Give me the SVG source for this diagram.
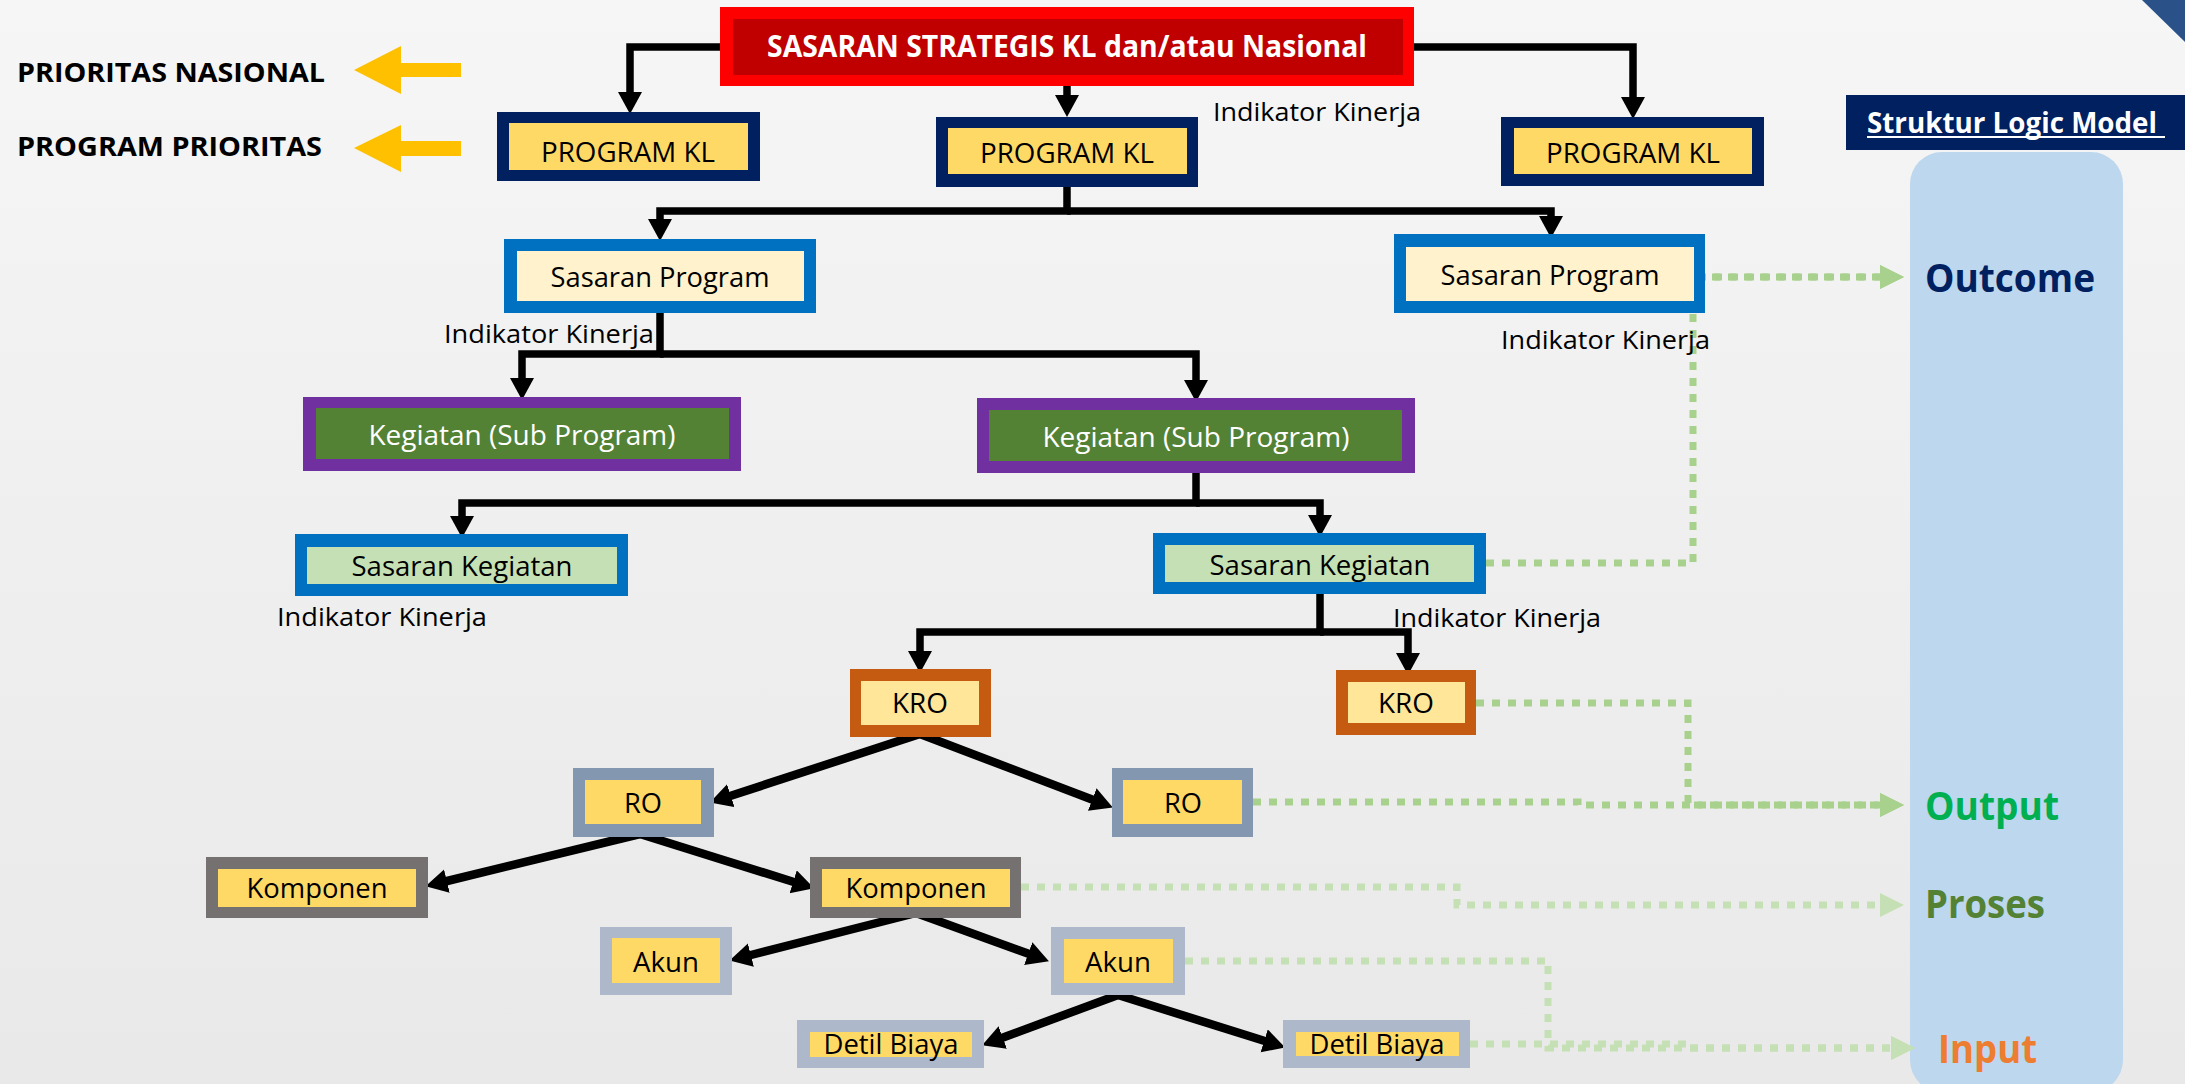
<svg xmlns="http://www.w3.org/2000/svg" width="2185" height="1084" viewBox="0 0 2185 1084">
<defs>
<linearGradient id="bg" x1="0" y1="0" x2="0" y2="1">
<stop offset="0" stop-color="#F6F6F6"/>
<stop offset="0.5" stop-color="#EFEFEF"/>
<stop offset="1" stop-color="#E9E9E9"/>
</linearGradient>
<marker id="ab" markerUnits="userSpaceOnUse" markerWidth="26" markerHeight="26" viewBox="0 0 26 26" refX="4" refY="12" orient="auto">
<path d="M0,0 L22,12 L0,24 z" fill="#000"/>
</marker>
<marker id="ag" markerUnits="userSpaceOnUse" markerWidth="26" markerHeight="26" viewBox="0 0 26 26" refX="0" refY="12" orient="auto">
<path d="M0,0 L24,12 L0,24 z" fill="#A9D18E"/>
</marker>
<marker id="agl" markerUnits="userSpaceOnUse" markerWidth="26" markerHeight="26" viewBox="0 0 26 26" refX="0" refY="12" orient="auto">
<path d="M0,0 L24,12 L0,24 z" fill="#C5E0B4"/>
</marker>
</defs>
<style>
text{font-family:"Open Sans","Noto Sans","DejaVu Sans",sans-serif;}
.lbl{font-size:28px;fill:#000;text-anchor:middle;}
.wl{font-size:28px;fill:#fff;text-anchor:middle;}
.ik{font-size:26px;fill:#000;}
.hd{font-size:27px;font-weight:bold;fill:#000;}
.lm{font-size:39px;font-weight:bold;}
.blk{fill:none;stroke:#000;stroke-width:7.5;marker-end:url(#ab);}
.dg{fill:none;stroke:#000;stroke-width:8.5;marker-end:url(#ab);}
.gd{fill:none;stroke:#A9D18E;stroke-width:7;stroke-dasharray:8 8;marker-end:url(#ag);}
.gl{fill:none;stroke:#C5E0B4;stroke-width:7;stroke-dasharray:8 8;marker-end:url(#agl);}
</style>
<rect x="0" y="0" width="2185" height="1084" fill="url(#bg)"/>
<polygon points="2142,0 2185,0 2185,42" fill="#2A5288"/>

<g id="legend-left">
<text class="hd" x="17" y="82" textLength="308" lengthAdjust="spacingAndGlyphs">PRIORITAS NASIONAL</text>
<text class="hd" x="17" y="156" textLength="305" lengthAdjust="spacingAndGlyphs">PROGRAM PRIORITAS</text>
<polygon points="354,70 401,46 401,63 461,63 461,77 401,77 401,94" fill="#FFC000"/>
<polygon points="354,148 401,125 401,141 461,141 461,156 401,156 401,172" fill="#FFC000"/>
</g>

<g id="logic-model">
<rect x="1846" y="95" width="339" height="55" fill="#002060"/>
<text x="1867" y="133" font-size="29" font-weight="bold" fill="#fff" textLength="290" lengthAdjust="spacingAndGlyphs">Struktur Logic Model</text>
<line x1="1867" y1="137" x2="2165" y2="137" stroke="#fff" stroke-width="2"/>
<rect x="1910" y="152" width="213" height="940" rx="32" ry="32" fill="#BDD7EE"/>
<text class="lm" x="1925" y="292" fill="#002060" textLength="170" lengthAdjust="spacingAndGlyphs">Outcome</text>
<text class="lm" x="1925" y="820" fill="#00B050" textLength="134" lengthAdjust="spacingAndGlyphs">Output</text>
<text class="lm" x="1925" y="918" fill="#548235" textLength="120" lengthAdjust="spacingAndGlyphs">Proses</text>
<text class="lm" x="1938" y="1063" fill="#ED7D31" textLength="99" lengthAdjust="spacingAndGlyphs">Input</text>
</g>

<g id="connectors">
<path class="blk" d="M720,47 H630 V96"/>
<path class="blk" d="M1067,86 V99"/>
<path class="blk" d="M1414,47 H1633 V101"/>
<path class="blk" d="M1067,187 V211 H660 V223"/>
<path class="blk" d="M1067,211 H1551 V220"/>
<path class="blk" d="M660,313 V354 H522 V382"/>
<path class="blk" d="M660,354 H1196 V384"/>
<path class="blk" d="M1196,473 V503 H462 V520"/>
<path class="blk" d="M1196,503 H1320 V519"/>
<path class="blk" d="M1320,594 V632 H920 V655"/>
<path class="blk" d="M1320,632 H1408 V657"/>
<path class="dg" d="M920,734 L727,797"/>
<path class="dg" d="M920,734 L1096,801"/>
<path class="dg" d="M640,834 L443,882"/>
<path class="dg" d="M640,834 L797,883"/>
<path class="dg" d="M916,913 L747,956"/>
<path class="dg" d="M916,913 L1032,955"/>
<path class="dg" d="M1118,995 L999,1039"/>
<path class="dg" d="M1118,995 L1268,1042"/>
<path class="gd" d="M1486,563 H1693 V277 H1880"/>
<path class="gd" d="M1698,277 H1880"/>
<path class="gd" d="M1476,703 H1688 V805 H1880"/>
<path class="gd" d="M1253,802 H1578 V805 H1880"/>
<path class="gl" d="M1021,887 H1457 V905 H1880"/>
<path class="gl" d="M1185,961 H1548 V1048 H1891"/>
<path class="gl" d="M1470,1044 H1690 V1048 H1891"/>
</g>

<g id="sasaran-strategis">
<rect x="720" y="7" width="694" height="79" fill="#FF0000"/>
<rect x="733" y="19" width="670" height="56" fill="#C00000"/>
<text x="1067" y="57" font-size="31" font-weight="bold" fill="#fff" text-anchor="middle" textLength="600" lengthAdjust="spacingAndGlyphs">SASARAN STRATEGIS KL dan/atau Nasional</text>
</g>
<g id="ik-1"><text class="ik" x="1213" y="121" textLength="208" lengthAdjust="spacingAndGlyphs">Indikator Kinerja</text></g>

<g id="program-kl-1">
<rect x="497" y="112" width="263" height="69" fill="#002060"/>
<rect x="509" y="123" width="239" height="47" fill="#FFD966"/>
<text class="lbl" x="628" y="162" textLength="174" lengthAdjust="spacingAndGlyphs">PROGRAM KL</text>
</g>
<g id="program-kl-2">
<rect x="936" y="117" width="262" height="70" fill="#002060"/>
<rect x="948" y="128" width="239" height="46" fill="#FFD966"/>
<text class="lbl" x="1067" y="163" textLength="174" lengthAdjust="spacingAndGlyphs">PROGRAM KL</text>
</g>
<g id="program-kl-3">
<rect x="1501" y="117" width="263" height="69" fill="#002060"/>
<rect x="1514" y="128" width="238" height="46" fill="#FFD966"/>
<text class="lbl" x="1633" y="163" textLength="174" lengthAdjust="spacingAndGlyphs">PROGRAM KL</text>
</g>

<g id="sasaran-program-1">
<rect x="504" y="239" width="312" height="74" fill="#0070C0"/>
<rect x="517" y="251" width="287" height="50" fill="#FFF2CC"/>
<text class="lbl" x="660" y="287" textLength="219" lengthAdjust="spacingAndGlyphs">Sasaran Program</text>
</g>
<g id="ik-2"><text class="ik" x="444" y="343" textLength="210" lengthAdjust="spacingAndGlyphs">Indikator Kinerja</text></g>
<g id="sasaran-program-2">
<rect x="1394" y="234" width="311" height="79" fill="#0070C0"/>
<rect x="1406" y="247" width="288" height="54" fill="#FFF2CC"/>
<text class="lbl" x="1550" y="285" textLength="219" lengthAdjust="spacingAndGlyphs">Sasaran Program</text>
</g>
<g id="ik-3"><text class="ik" x="1501" y="349" textLength="209" lengthAdjust="spacingAndGlyphs">Indikator Kinerja</text></g>

<g id="kegiatan-1">
<rect x="303" y="397" width="438" height="74" fill="#7030A0"/>
<rect x="316" y="408" width="413" height="51" fill="#548235"/>
<text class="wl" x="522" y="445" textLength="307" lengthAdjust="spacingAndGlyphs">Kegiatan (Sub Program)</text>
</g>
<g id="kegiatan-2">
<rect x="977" y="398" width="438" height="75" fill="#7030A0"/>
<rect x="989" y="410" width="413" height="51" fill="#548235"/>
<text class="wl" x="1196" y="447" textLength="307" lengthAdjust="spacingAndGlyphs">Kegiatan (Sub Program)</text>
</g>

<g id="sasaran-kegiatan-1">
<rect x="295" y="534" width="333" height="62" fill="#0070C0"/>
<rect x="307" y="547" width="310" height="37" fill="#C5E0B4"/>
<text class="lbl" x="462" y="576" textLength="221" lengthAdjust="spacingAndGlyphs">Sasaran Kegiatan</text>
</g>
<g id="ik-4"><text class="ik" x="277" y="626" textLength="210" lengthAdjust="spacingAndGlyphs">Indikator Kinerja</text></g>
<g id="sasaran-kegiatan-2">
<rect x="1153" y="533" width="333" height="61" fill="#0070C0"/>
<rect x="1165" y="545" width="309" height="37" fill="#C5E0B4"/>
<text class="lbl" x="1320" y="575" textLength="221" lengthAdjust="spacingAndGlyphs">Sasaran Kegiatan</text>
</g>
<g id="ik-5"><text class="ik" x="1393" y="627" textLength="208" lengthAdjust="spacingAndGlyphs">Indikator Kinerja</text></g>

<g id="kro-1">
<rect x="850" y="669" width="141" height="68" fill="#C55A11"/>
<rect x="861" y="681" width="118" height="44" fill="#FFE699"/>
<text class="lbl" x="920" y="713" textLength="56" lengthAdjust="spacingAndGlyphs">KRO</text>
</g>
<g id="kro-2">
<rect x="1336" y="670" width="140" height="65" fill="#C55A11"/>
<rect x="1348" y="682" width="117" height="41" fill="#FFE699"/>
<text class="lbl" x="1406" y="713" textLength="56" lengthAdjust="spacingAndGlyphs">KRO</text>
</g>

<g id="ro-1">
<rect x="573" y="768" width="141" height="69" fill="#8497B0"/>
<rect x="585" y="780" width="116" height="44" fill="#FFD966"/>
<text class="lbl" x="643" y="813" textLength="38" lengthAdjust="spacingAndGlyphs">RO</text>
</g>
<g id="ro-2">
<rect x="1112" y="768" width="141" height="69" fill="#8497B0"/>
<rect x="1123" y="780" width="119" height="44" fill="#FFD966"/>
<text class="lbl" x="1183" y="813" textLength="38" lengthAdjust="spacingAndGlyphs">RO</text>
</g>

<g id="komponen-1">
<rect x="206" y="857" width="222" height="61" fill="#767171"/>
<rect x="218" y="869" width="198" height="38" fill="#FFD966"/>
<text class="lbl" x="317" y="898" textLength="141" lengthAdjust="spacingAndGlyphs">Komponen</text>
</g>
<g id="komponen-2">
<rect x="810" y="857" width="211" height="61" fill="#767171"/>
<rect x="822" y="869" width="188" height="38" fill="#FFD966"/>
<text class="lbl" x="916" y="898" textLength="141" lengthAdjust="spacingAndGlyphs">Komponen</text>
</g>

<g id="akun-1">
<rect x="600" y="927" width="132" height="68" fill="#ADB9CA"/>
<rect x="612" y="938" width="108" height="45" fill="#FFD966"/>
<text class="lbl" x="666" y="972" textLength="66" lengthAdjust="spacingAndGlyphs">Akun</text>
</g>
<g id="akun-2">
<rect x="1051" y="927" width="134" height="68" fill="#ADB9CA"/>
<rect x="1064" y="939" width="109" height="44" fill="#FFD966"/>
<text class="lbl" x="1118" y="972" textLength="66" lengthAdjust="spacingAndGlyphs">Akun</text>
</g>

<g id="detil-biaya-1">
<rect x="797" y="1020" width="187" height="48" fill="#ADB9CA"/>
<rect x="810" y="1032" width="162" height="25" fill="#FFD966"/>
<text class="lbl" x="891" y="1054" textLength="135" lengthAdjust="spacingAndGlyphs">Detil Biaya</text>
</g>
<g id="detil-biaya-2">
<rect x="1283" y="1020" width="187" height="48" fill="#ADB9CA"/>
<rect x="1296" y="1032" width="163" height="24" fill="#FFD966"/>
<text class="lbl" x="1377" y="1054" textLength="135" lengthAdjust="spacingAndGlyphs">Detil Biaya</text>
</g>
</svg>
